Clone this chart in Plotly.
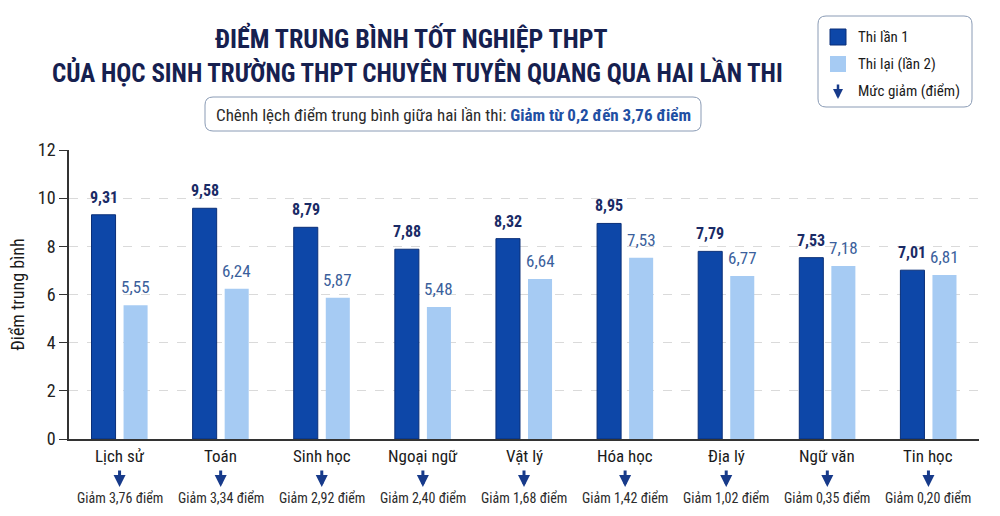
import plotly.graph_objects as go

subjects = ["Lịch sử", "Toán", "Sinh học", "Ngoại ngữ", "Vật lý", "Hóa học", "Địa lý", "Ngữ văn", "Tin học"]
lan1 = [9.31, 9.58, 8.79, 7.88, 8.32, 8.95, 7.79, 7.53, 7.01]
lan2 = [5.55, 6.24, 5.87, 5.48, 6.64, 7.53, 6.77, 7.18, 6.81]
giam = [3.76, 3.34, 2.92, 2.40, 1.68, 1.42, 1.02, 0.35, 0.20]
series_names = ["Thi lần 1", "Thi lại (lần 2)"]
arrow_legend = "Mức giảm (điểm)"
y_ticks = [0, 2, 4, 6, 8, 10, 12]

W, H = 1000, 516
L, R, T, B = 69, 979, 150, 439
FONT = "Roboto Condensed, DejaVu Sans Condensed, Roboto, sans-serif"
DARK = "#0d47a8"
LIGHT = "#a6cbf3"
NAVY = "#1a2b66"
MIDBLUE = "#3b5f9c"

def px(x):
    return (x - L) / (R - L)

def py(y):
    return (B - y) / (B - T)

def vn(v):
    return f"{v:.2f}".replace(".", ",")

fig = go.Figure()
fig.add_bar(x=subjects, y=lan1, name=series_names[0], marker=dict(color=DARK, line=dict(color="#0a2f78", width=1)))
fig.add_bar(x=subjects, y=lan2, name=series_names[1], marker=dict(color=LIGHT, line=dict(width=0)))

ann = []
for s, v1, v2 in zip(subjects, lan1, lan2):
    ann.append(dict(text=f"<b>{vn(v1)}</b>", x=s, y=v1, xref="x", yref="y", xshift=-16, yshift=6,
                    yanchor="bottom", showarrow=False, font=dict(family=FONT, size=16, color=NAVY)))
    ann.append(dict(text=vn(v2), x=s, y=v2, xref="x", yref="y", xshift=16, yshift=6,
                    yanchor="bottom", showarrow=False, font=dict(family=FONT, size=17, color=MIDBLUE)))

ann.append(dict(text="<b>ĐIỂM TRUNG BÌNH TỐT NGHIỆP THPT</b>", x=px(411), y=py(38), xref="paper", yref="paper",
                showarrow=False, font=dict(family=FONT, size=26, color="#16204f"), xanchor="center", yanchor="middle"))
ann.append(dict(text="<b>CỦA HỌC SINH TRƯỜNG THPT CHUYÊN TUYÊN QUANG QUA HAI LẦN THI</b>", x=px(417), y=py(72),
                xref="paper", yref="paper", showarrow=False, font=dict(family=FONT, size=25, color="#16204f"),
                xanchor="center", yanchor="middle"))
ann.append(dict(text="Chênh lệch điểm trung bình giữa hai lần thi: <b><span style='color:#1f4fa3'>Giảm từ 0,2 đến 3,76 điểm</span></b>",
                x=px(453), y=py(115), xref="paper", yref="paper", showarrow=False,
                font=dict(family=FONT, size=17, color="#2b2b2b"), xanchor="center", yanchor="middle"))

for s, g in zip(subjects, giam):
    ann.append(dict(text=s, x=s, xref="x", y=py(456), yref="paper", showarrow=False,
                    font=dict(family=FONT, size=17, color="#1a1a1a"), yanchor="middle"))
    ann.append(dict(text="", x=s, xref="x", y=py(487), yref="paper", showarrow=True, ax=0, ay=-18,
                    arrowhead=2, arrowsize=0.8, arrowwidth=3, arrowcolor="#173a8a"))
    ann.append(dict(text=f"Giảm {vn(g)} điểm", x=s, xref="x", y=py(498), yref="paper", showarrow=False,
                    font=dict(family=FONT, size=14, color="#2b2b2b"), yanchor="middle"))

leg_y = [37, 64, 91]
for name, yy in zip(series_names + [arrow_legend], leg_y):
    ann.append(dict(text=name, x=px(856), y=py(yy), xref="paper", yref="paper", showarrow=False,
                    xanchor="left", yanchor="middle", font=dict(family=FONT, size=15, color="#1a1a1a")))
ann.append(dict(text="", x=px(838), y=py(99), xref="paper", yref="paper", showarrow=True, ax=0, ay=-16,
                arrowhead=2, arrowsize=0.8, arrowwidth=2.5, arrowcolor="#173a8a"))

def rounded(x0, y0, x1, y1, r):
    X0, X1 = px(x0), px(x1)
    Y0, Y1 = py(y0), py(y1)
    rx, ry = r / (R - L), r / (B - T)
    return (f"M {X0+rx},{Y0} L {X1-rx},{Y0} Q {X1},{Y0} {X1},{Y0-ry} L {X1},{Y1+ry} Q {X1},{Y1} {X1-rx},{Y1} "
            f"L {X0+rx},{Y1} Q {X0},{Y1} {X0},{Y1+ry} L {X0},{Y0-ry} Q {X0},{Y0} {X0+rx},{Y0} Z")

shapes = [
    dict(type="path", path=rounded(818, 16, 972, 107, 8), xref="paper", yref="paper",
         line=dict(color="#8a9bb5", width=1), fillcolor="white", layer="below"),
    dict(type="path", path=rounded(205, 97, 701, 131, 8), xref="paper", yref="paper",
         line=dict(color="#8a9bb5", width=1), fillcolor="white", layer="below"),
    dict(type="rect", x0=px(830), x1=px(846), y0=py(29), y1=py(45), xref="paper", yref="paper",
         fillcolor=DARK, line=dict(color="#0a2f78", width=1)),
    dict(type="rect", x0=px(830), x1=px(846), y0=py(56), y1=py(72), xref="paper", yref="paper",
         fillcolor=LIGHT, line=dict(width=0)),
]

fig.update_layout(
    width=W, height=H,
    margin=dict(l=L, r=W - R, t=T, b=H - B, pad=0),
    paper_bgcolor="white", plot_bgcolor="white",
    barmode="group", bargap=0.366, bargroupgap=0.25,
    showlegend=False,
    annotations=ann, shapes=shapes,
    font=dict(family=FONT),
    xaxis=dict(showticklabels=False, ticks="", showline=True, linecolor="#333333", linewidth=2,
               showgrid=False, zeroline=False),
    yaxis=dict(range=[0, 12], tickvals=y_ticks, ticks="outside", ticklen=8, tickcolor="#333333",
               showline=True, linecolor="#333333", linewidth=1.5,
               tickfont=dict(family=FONT, size=18, color="#222222"),
               gridcolor="#dadada", griddash="dash", gridwidth=1, zeroline=False,
               title=dict(text="Điểm trung bình", font=dict(family=FONT, size=18, color="#1a1a1a"), standoff=9)),
)

fig.write_html("out.html", config={"displayModeBar": False},
               post_script="document.body.style.margin='0';document.body.style.overflow='hidden';")
